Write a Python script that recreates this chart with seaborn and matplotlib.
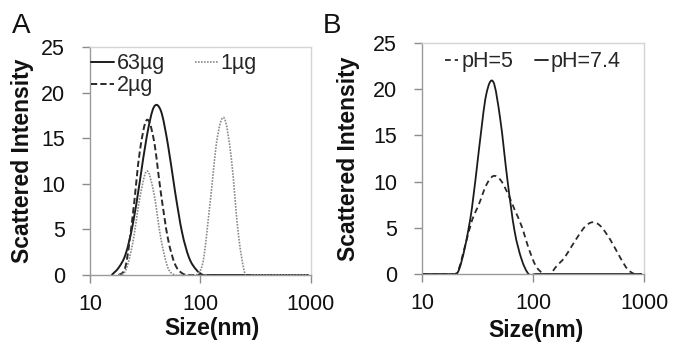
import numpy as np
import pandas as pd
import matplotlib
matplotlib.use("Agg")
import matplotlib.pyplot as plt
from matplotlib.path import Path
from matplotlib.patches import PathPatch
import seaborn as sns

sns.set_theme(style="white")
plt.rcParams["font.family"] = ["Liberation Sans", "DejaVu Sans"]

nan = np.nan

# DLS size bins (nm)
sizes = [10.1, 11.7, 13.54, 15.69, 18.17, 21.04, 24.36, 28.21, 32.67, 37.84,
         43.82, 50.75, 58.77, 68.06, 78.82, 91.28, 105.7, 122.4, 141.8, 164.2,
         190.1, 220.2, 255.0, 295.3, 342.0, 396.1, 458.7, 531.2, 615.1, 712.4,
         825.0, 955.4]

# Panel A: scattered intensity for each loading
dose_63ug = [nan, nan, nan, 0, 0.8, 2.3, 5.5, 10.2, 15.2, 18.4,
             18.0, 14.3, 9.2, 4.7, 1.9, 0.6, 0, 0, 0, 0,
             0, 0, 0, 0, 0, 0, 0, 0, 0, 0,
             0, 0]
dose_2ug = [nan, nan, nan, nan, 0, 1.0, 6.5, 13.5, 17.0, 14.8,
            9.0, 4.0, 1.2, 0.2, 0, 0, 0, 0, 0, 0,
            0, 0, 0, 0, 0, 0, 0, 0, 0, 0,
            0, 0]
dose_1ug = [nan, nan, nan, nan, 0, 0.5, 3.5, 8.4, 11.4, 9.0,
            4.0, 0.8, 0, 0, 0, 0, 1.5, 8.0, 15.0, 17.2,
            12.8, 4.5, 0, 0, 0, 0, 0, 0, 0, 0,
            0, 0]

# Panel B: scattered intensity at two pH values
ph_5 = [0, 0, 0, 0, 0, 0.3, 3.0, 5.8, 7.6, 9.6,
        10.6, 10.2, 8.8, 7.0, 5.2, 2.8, 0.9, 0.1, 0, 0.9,
        1.7, 2.9, 4.1, 5.15, 5.6, 5.3, 4.35, 3.1, 1.7, 0.5,
        0, 0]
ph_74 = [0, 0, 0, 0, 0, 0.2, 2.9, 7.2, 13.6, 19.4,
         20.8, 16.7, 10.2, 4.7, 1.6, 0, 0, 0, 0, 0,
         0, 0, 0, 0, 0, 0, 0, 0, 0, 0,
         0, 0]

x_ticks = [10, 100, 1000]
x_ticklabels = ["10", "100", "1000"]
y_ticks = [0, 5, 10, 15, 20, 25]

fig = plt.figure(figsize=(6.76, 3.45), dpi=100)
axA = fig.add_axes([0.1331, 0.2029, 0.3269, 0.6609])
axB = fig.add_axes([0.6243, 0.2058, 0.3284, 0.6696])

SOLID = "#1c1c1c"
DASH = "#2a2a2a"
DOT = "#8a8a8a"


def draw(ax, y, label, color, ls, lw):
    df = pd.DataFrame({"size": sizes, "intensity": y}).dropna()
    sns.lineplot(data=df, x="size", y="intensity", ax=ax, color=color,
                 linestyle=ls, linewidth=lw, label=label, legend=False)


def smooth_lines(ax):
    """Redraw each line as a smoothed Bezier curve through its points."""
    for line in list(ax.get_lines()):
        x = np.log10(np.asarray(line.get_xdata(), float))
        y = np.asarray(line.get_ydata(), float)
        n = len(x)
        verts = [(x[0], y[0])]
        codes = [Path.MOVETO]
        for i in range(n - 1):
            a = max(i - 1, 0)
            d = min(i + 2, n - 1)
            c1 = (x[i] + (x[i + 1] - x[a]) / 6, y[i] + (y[i + 1] - y[a]) / 6)
            c2 = (x[i + 1] - (x[d] - x[i]) / 6, y[i + 1] - (y[d] - y[i]) / 6)
            verts += [c1, c2, (x[i + 1], y[i + 1])]
            codes += [Path.CURVE4] * 3
        verts = np.array(verts)
        verts[:, 0] = 10 ** verts[:, 0]
        patch = PathPatch(Path(verts, codes), fill=False,
                          edgecolor=line.get_color(),
                          linewidth=line.get_linewidth(),
                          transform=ax.transData, capstyle="butt")
        patch.set_linestyle(line._unscaled_dash_pattern
                            if line.get_linestyle() != "-" else "-")
        ax.add_patch(patch)
        line.remove()


draw(axA, dose_63ug, "63\u00b5g", SOLID, "-", 1.4)
draw(axA, dose_2ug, "2\u00b5g", DASH, (0, (3.2, 1.6)), 1.4)
draw(axA, dose_1ug, "1\u00b5g", DOT, (0, (1, 0.8)), 1.2)

draw(axB, ph_5, "pH=5", DASH, (0, (3.2, 2.2)), 1.3)
draw(axB, ph_74, "pH=7.4", SOLID, "-", 1.3)

for ax in (axA, axB):
    ax.set_xscale("log")
    ax.set_xlim(10, 1000)
    ax.set_ylim(0, 25)
    ax.set_xticks(x_ticks)
    ax.set_xticklabels(x_ticklabels)
    ax.xaxis.set_minor_locator(matplotlib.ticker.NullLocator())
    ax.set_yticks(y_ticks)
    ax.tick_params(axis="both", which="major", labelsize=15.5, colors="#8c8c8c",
                   labelcolor="#111111", length=6, width=1.0, direction="out")
    ax.tick_params(axis="x", pad=8, bottom=True)
    ax.tick_params(axis="y", pad=12, left=True)
    for side in ("left", "bottom"):
        ax.spines[side].set_color("#9a9a9a")
        ax.spines[side].set_linewidth(1.0)
    for side in ("top", "right"):
        ax.spines[side].set_color("#d4d4d4")
        ax.spines[side].set_linewidth(1.0)
    ax.set_xlabel("Size(nm)", fontsize=16.5, fontweight="bold", color="#111111")
    ax.set_ylabel("Scattered Intensity", fontsize=16.5, fontweight="bold",
                  color="#111111")

axA.xaxis.set_label_coords(0.55, -0.185)
axA.yaxis.set_label_coords(-0.255, 0.5)
axB.xaxis.set_label_coords(0.515, -0.195)
axB.yaxis.set_label_coords(-0.28, 0.5)

hA = {h.get_label(): h for h in axA.get_lines()}
axA.legend([hA["63\u00b5g"], hA["2\u00b5g"], hA["1\u00b5g"]],
           ["63\u00b5g", "2\u00b5g", "1\u00b5g"], ncol=2, frameon=False,
           fontsize=15.5, loc="upper left", bbox_to_anchor=(-0.055, 1.03),
           handlelength=1.1, handletextpad=0.1, columnspacing=1.4,
           labelspacing=0.05, borderaxespad=0.2)

hB = {h.get_label(): h for h in axB.get_lines()}
axB.legend([hB["pH=5"], hB["pH=7.4"]], ["pH=5", "pH=7.4"], ncol=2,
           frameon=False, fontsize=15.5, loc="upper center",
           bbox_to_anchor=(0.5, 1.02), handlelength=0.6,
           handletextpad=0.15, columnspacing=1.0, borderaxespad=0.2)

smooth_lines(axA)
smooth_lines(axB)

fig.text(12 / 676, 1 - 33 / 345, "A", fontsize=20, color="#111111",
         ha="left", va="baseline")
fig.text(323 / 676, 1 - 33 / 345, "B", fontsize=20, color="#111111",
         ha="left", va="baseline")

fig.savefig("out.png", dpi=100, facecolor="white")
